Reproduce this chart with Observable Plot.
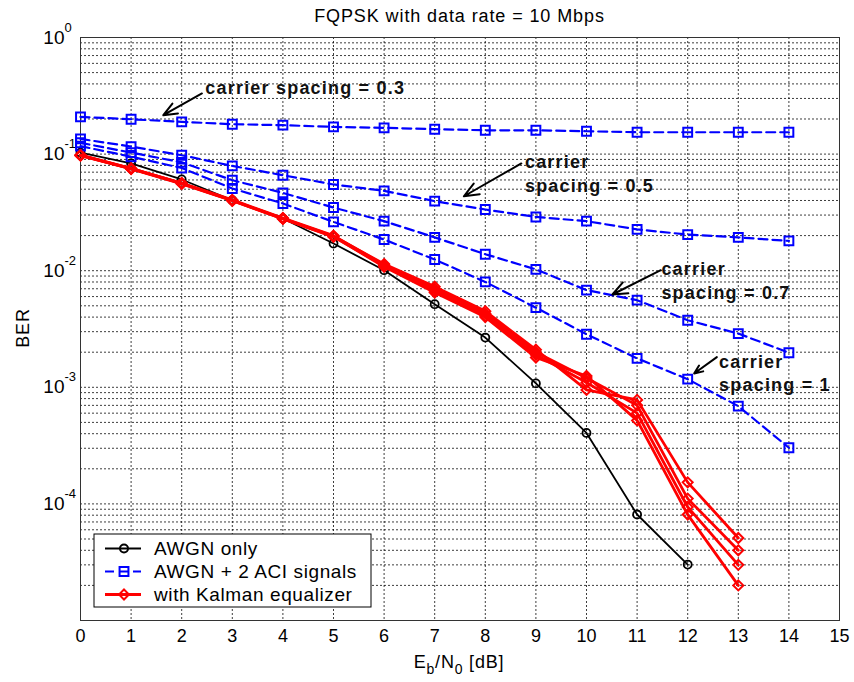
<!DOCTYPE html>
<html><head><meta charset="utf-8">
<script src="https://cdn.jsdelivr.net/npm/d3@7"></script>
<script src="https://cdn.jsdelivr.net/npm/@observablehq/plot@0.6"></script>
<style>body{margin:0;background:#fff} svg{font-family: Arial, "Liberation Sans", sans-serif}</style>
</head><body><div id="chart"></div>
<script>
// ---------- data ----------
const titleText = "FQPSK with data rate = 10 Mbps";
const ebn0 = [0,1,2,3,4,5,6,7,8,9,10,11,12,13,14];
const xTicks = [0,1,2,3,4,5,6,7,8,9,10,11,12,13,14,15];
const yTickExps = [0,-1,-2,-3,-4];

const awgnOnly = [0.103,0.0831,0.0606,0.0402,0.0280,0.0171,0.0101,0.00516,0.00267,0.00108,0.000406,0.0000811,0.0000302];

const aci03 = [0.2085,0.199,0.189,0.1805,0.177,0.171,0.168,0.1635,0.160,0.160,0.157,0.154,0.154,0.154,0.154];
const aci05 = [0.135,0.116,0.0978,0.0792,0.0659,0.0549,0.0484,0.0395,0.0335,0.0289,0.0266,0.0226,0.0204,0.0193,0.0180];
const aci07 = [0.125,0.103,0.085,0.0597,0.0465,0.0348,0.0266,0.0193,0.01385,0.01026,0.00681,0.00559,0.00376,0.00289,0.00198];
const aci10 = [0.117,0.095,0.076,0.0507,0.0377,0.0262,0.0185,0.01247,0.00801,0.00482,0.00285,0.00177,0.001174,0.000689,0.000303];

const kalman1 = [0.098,0.075,0.056,0.040,0.028,0.0198,0.0114,0.0073,0.0045,0.0021,0.00095,0.00078,0.000153,0.000051];
const kalman2 = [0.097,0.075,0.0565,0.0405,0.0283,0.0200,0.0112,0.0070,0.0043,0.0020,0.00120,0.00070,0.000111,0.000040];
const kalman3 = [0.098,0.0755,0.056,0.040,0.028,0.0195,0.0110,0.0067,0.0041,0.0019,0.00110,0.00060,0.000094,0.000030];
const kalman4 = [0.0975,0.0745,0.0555,0.0398,0.0278,0.0197,0.0108,0.0065,0.0040,0.0018,0.00125,0.00052,0.000081,0.000020];

const legendLabels = ["AWGN only","AWGN + 2 ACI signals","with Kalman equalizer"];

// annotations (data coordinates)
const noteText = ["carrier spacing = 0.3","carrier","spacing = 0.5","carrier","spacing = 0.7","carrier","spacing = 1"];
const noteX = [2.467,8.783,8.783,11.48,11.48,12.62,12.62];
const noteY = [0.367,0.0852,0.0530,0.01024,0.00637,0.001652,0.001042];
const arrowX1 = [2.40,8.712,11.468,12.576];
const arrowY1 = [0.331,0.0831,0.0101,0.001813];
const arrowX2 = [1.636,7.577,10.512,12.127];
const arrowY2 = [0.2157,0.0435,0.00625,0.001313];

// ---------- tables ----------
const toRows = (vals, series) => vals.map((v,i) => ({x: ebn0[i], y: v, series}));
const black = toRows(awgnOnly, "awgn");
const blue = [...toRows(aci03,"0.3"),...toRows(aci05,"0.5"),...toRows(aci07,"0.7"),...toRows(aci10,"1")];
const red = [...toRows(kalman1,"k1"),...toRows(kalman2,"k2"),...toRows(kalman3,"k3"),...toRows(kalman4,"k4")];
const notes = noteText.map((t,i)=>({x: noteX[i], y: noteY[i], t}));
const arrows = arrowX1.map((_,i)=>({x1: arrowX1[i], y1: arrowY1[i], x2: arrowX2[i], y2: arrowY2[i]}));

const yDecades = yTickExps.map(e => Math.pow(10, e));
const yGrid = [];
for (let e = -5; e < 0; e++) for (let m = 1; m <= 9; m++) yGrid.push(m * Math.pow(10, e));

const gridStyle = {stroke: "#000", strokeWidth: 0.9, strokeDasharray: "2,2", strokeOpacity: 0.85};

const plot = Plot.plot({
  width: 854, height: 682,
  marginLeft: 80, marginRight: 15, marginTop: 37, marginBottom: 62,
  style: {fontFamily: "Arial, 'Liberation Sans', sans-serif", fontSize: "17px", color: "#000", background: "#fff", overflow: "visible"},
  x: {domain: [0, 15], label: null},
  y: {type: "log", domain: [1e-5, 1], label: null, axis: null},
  marks: [
    Plot.ruleY(yGrid.slice(1), gridStyle),
    Plot.ruleX(xTicks.slice(1, -1), gridStyle),
    Plot.axisX(xTicks, {tickSize: 0, tickPadding: 9, fontSize: 18, label: null, stroke: "#000"}),
    Plot.text(yDecades, {y: d => d, frameAnchor: "left", text: () => "10", dx: -16, textAnchor: "end", fontSize: 19}),
    Plot.text(yDecades, {y: d => d, frameAnchor: "left", text: (d, i) => String(yTickExps[i]), dx: -16, dy: -10, textAnchor: "start", fontSize: 13}),
    Plot.frame({stroke: "#333", strokeWidth: 1}),
    Plot.line(black, {x: "x", y: "y", stroke: "#000", strokeWidth: 1.8}),
    Plot.dot(black, {x: "x", y: "y", symbol: "circle", r: 4, stroke: "#000", strokeWidth: 1.8, fill: "none"}),
    Plot.line(blue, {x: "x", y: "y", z: "series", stroke: "#0000ff", strokeWidth: 2.2, strokeDasharray: "9,5"}),
    Plot.dot(blue, {x: "x", y: "y", symbol: "square", r: 5, stroke: "#0000ff", strokeWidth: 2, fill: "none"}),
    Plot.line(red, {x: "x", y: "y", z: "series", stroke: "#ff0000", strokeWidth: 2.8}),
    Plot.dot(red, {x: "x", y: "y", symbol: "diamond2", r: 4.5, stroke: "#ff0000", strokeWidth: 2, fill: "none"}),
    Plot.arrow(arrows, {x1: "x1", y1: "y1", x2: "x2", y2: "y2", stroke: "#000", strokeWidth: 2, headLength: 12, headAngle: 45}),
    Plot.text(notes, {x: "x", y: "y", text: "t", textAnchor: "start", fontWeight: "bold", fontSize: 18, fill: "#111", className: "notes"})
  ]
});

const svg = d3.select(plot);
svg.selectAll(".notes text").attr("letter-spacing", "1.2px");
// title
svg.append("text").attr("x", 459.5).attr("y", 21.5).attr("text-anchor", "middle")
  .attr("font-size", 18).attr("letter-spacing", "0.9px").attr("fill", "#000").text(titleText);
// x label
const xl = svg.append("text").attr("x", 459).attr("y", 668).attr("text-anchor", "middle")
  .attr("font-size", 18).attr("letter-spacing", "0.8px").attr("fill", "#000");
xl.append("tspan").text("E");
xl.append("tspan").attr("dy", 6).attr("font-size", 14).text("b");
xl.append("tspan").attr("dy", -6).text("/N");
xl.append("tspan").attr("dy", 6).attr("font-size", 14).text("0");
xl.append("tspan").attr("dy", -6).text(" [dB]");
// y label
svg.append("text").attr("transform", "translate(23,328) rotate(-90)").attr("text-anchor", "middle")
  .attr("dominant-baseline", "central").attr("font-size", 18).attr("letter-spacing", "0.8px").attr("fill", "#000").text("BER");
// legend
const lg = svg.append("g");
lg.append("rect").attr("x", 94).attr("y", 534).attr("width", 277).attr("height", 73)
  .attr("fill", "#fff").attr("stroke", "#000").attr("stroke-width", 1);
const legStyles = [
  {stroke: "#000", dash: null, sym: d3.symbolCircle, size: Math.PI*16, w: 1.8},
  {stroke: "#0000ff", dash: "9,5", sym: d3.symbolSquare, size: Math.PI*25, w: 2.2},
  {stroke: "#ff0000", dash: null, sym: d3.symbolDiamond2, size: Math.PI*20, w: 2.8}
];
legendLabels.forEach((lab, i) => {
  const y = 548.5 + i * 23;
  const s = legStyles[i];
  lg.append("line").attr("x1", 105).attr("x2", 141).attr("y1", y).attr("y2", y)
    .attr("stroke", s.stroke).attr("stroke-width", s.w).attr("stroke-dasharray", s.dash);
  lg.append("path").attr("d", d3.symbol(s.sym, s.size)()).attr("transform", `translate(124,${y})`)
    .attr("fill", "none").attr("stroke", s.stroke).attr("stroke-width", 2);
  lg.append("text").attr("x", 154).attr("y", y).attr("text-anchor", "start").attr("dominant-baseline", "central")
    .attr("font-size", 19).attr("letter-spacing", "0.6px").attr("fill", "#000").text(lab);
});

document.getElementById("chart").appendChild(plot);
</script></body></html>
